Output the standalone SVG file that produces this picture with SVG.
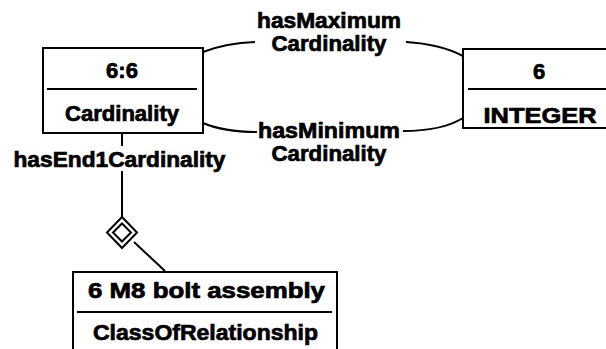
<svg xmlns="http://www.w3.org/2000/svg" width="606" height="349" viewBox="0 0 606 349">
<style>
.box{fill:#fff;stroke:#000;stroke-width:2}
.div{stroke:#000;stroke-width:2}
.t{font-family:"Liberation Sans",Arial,sans-serif;font-weight:bold;font-size:22px;fill:#000;stroke:#000;stroke-width:0.7;text-anchor:middle}
.c{fill:none;stroke:#000;stroke-width:2}
</style>
<rect width="606" height="349" fill="#fff"/>
<g id="connectors">
<path class="c" d="M203,52 Q226,43 255,42"/>
<path class="c" d="M406,42 Q440,44 463,56"/>
<path class="c" d="M203,123 Q224,132 257,132"/>
<path class="c" d="M403,131 Q442,131 463,118"/>
<line class="c" x1="122" y1="133" x2="122" y2="146"/>
<line class="c" x1="122" y1="171" x2="122" y2="217"/>
<path class="c" d="M122,217 L137,232.5 L122,248 L107,232.5 Z"/>
<path class="c" d="M122,223.5 L131,232.5 L122,241.5 L113,232.5 Z"/>
<line class="c" x1="134" y1="242" x2="165" y2="271"/>
<text class="t" x="329" y="28" textLength="144" lengthAdjust="spacingAndGlyphs">hasMaximum</text>
<text class="t" x="329" y="51" textLength="115" lengthAdjust="spacingAndGlyphs">Cardinality</text>
<text class="t" x="329" y="138" textLength="142" lengthAdjust="spacingAndGlyphs">hasMinimum</text>
<text class="t" x="329" y="161" textLength="115" lengthAdjust="spacingAndGlyphs">Cardinality</text>
<text class="t" x="119.5" y="167" textLength="212" lengthAdjust="spacingAndGlyphs">hasEnd1Cardinality</text>
</g>
<g id="node-cardinality">
<rect class="box" x="43" y="48" width="160" height="85"/>
<line class="div" x1="47" y1="89" x2="197" y2="89"/>
<text class="t" x="122" y="78">6:6</text>
<text class="t" x="122" y="121" textLength="114" lengthAdjust="spacingAndGlyphs">Cardinality</text>
</g>
<g id="node-integer">
<rect class="box" x="463" y="49" width="152" height="79"/>
<line class="div" x1="468" y1="89" x2="610" y2="89"/>
<text class="t" x="539" y="79">6</text>
<text class="t" x="540" y="123" textLength="113" lengthAdjust="spacingAndGlyphs">INTEGER</text>
</g>
<g id="node-bolt">
<rect class="box" x="73" y="272" width="264" height="90"/>
<line class="div" x1="77" y1="312" x2="332" y2="312"/>
<text class="t" x="206.5" y="298" textLength="237" lengthAdjust="spacingAndGlyphs">6 M8 bolt assembly</text>
<text class="t" x="205.5" y="340" textLength="225" lengthAdjust="spacingAndGlyphs">ClassOfRelationship</text>
</g>
</svg>
